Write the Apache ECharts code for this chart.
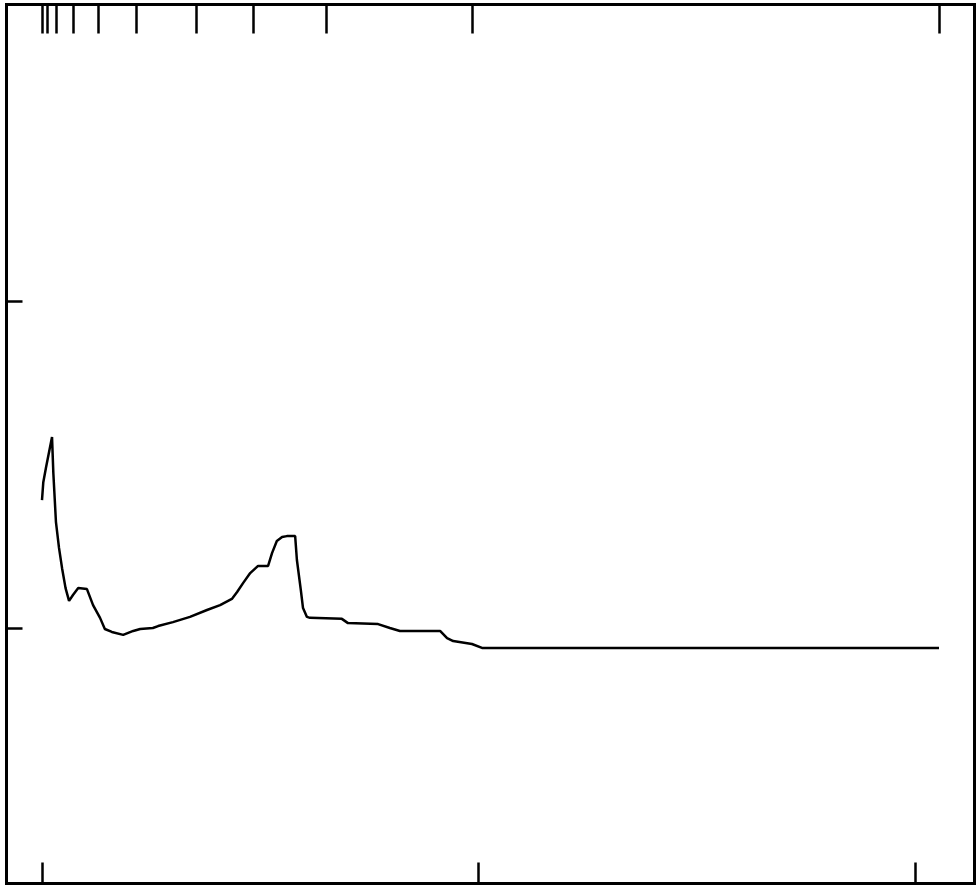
<!DOCTYPE html>
<html>
<head>
<meta charset="utf-8">
<script src="https://cdn.jsdelivr.net/npm/echarts@6/dist/echarts.min.js"></script>
<style>
  html, body { margin: 0; padding: 0; background: #fff; }
  #chart { width: 977px; height: 890px; }
</style>
</head>
<body>
<div id="chart"></div>
<script>
// curve
var xValues = [0, 0.03, 0.09, 0.23, 0.26, 0.32, 0.39, 0.46, 0.54, 0.62, 0.71, 0.83, 1.03, 1.17, 1.33, 1.44,
  1.6, 1.86, 2.09, 2.25, 2.54, 2.66, 3.0, 3.39, 3.78, 4.08, 4.35, 4.47, 4.61, 4.77, 4.95, 5.18, 5.27,
  5.38, 5.5, 5.61, 5.8, 5.84, 5.93, 5.98, 6.07, 6.14, 6.87, 7.01, 7.7, 7.97, 8.2, 9.12, 9.28, 9.42,
  9.85, 10.08, 20.55]
var yValues = [3.91, 4.46, 4.89, 5.84, 4.74, 3.24, 2.45, 1.83, 1.22, 0.83, 1.01, 1.22, 1.19, 0.7, 0.31, -0.03,
  -0.12, -0.21, -0.09, -0.03, 0, 0.06, 0.18, 0.34, 0.55, 0.7, 0.89, 1.1, 1.38, 1.68, 1.9, 1.9, 2.29,
  2.66, 2.78, 2.81, 2.81, 2.08, 1.16, 0.61, 0.34, 0.31, 0.28, 0.15, 0.12, 0, -0.09, -0.09, -0.31, -0.4,
  -0.49, -0.61, -0.61]
// tick positions
var bottomTicks = [0, 10, 20]
var topTicks = [0, 0.115, 0.321, 0.71, 1.283, 2.154, 3.528, 4.834, 6.506, 9.851, 20.55]
var leftTicks = [0, 10]

var points = xValues.map(function (x, i) { return [x, yValues[i]] })

var chart = echarts.init(document.getElementById('chart'))
chart.setOption({
  animation: false,
  grid: {
    left: 6.5,
    top: 4.5,
    right: 2.5,
    bottom: 6.5,
    show: true,
    borderColor: '#000',
    borderWidth: 3,
    outerBoundsMode: 'none'
  },
  xAxis: [
    {
      type: 'value',
      position: 'bottom',
      min: -0.813,
      max: 21.363,
      axisLine: { show: false, onZero: false },
      axisLabel: { show: false },
      splitLine: { show: false },
      axisTick: {
        show: true,
        inside: true,
        length: 21,
        customValues: bottomTicks,
        lineStyle: { color: '#000', width: 2.5 }
      }
    },
    {
      type: 'value',
      position: 'top',
      min: -0.813,
      max: 21.363,
      axisLine: { show: false, onZero: false },
      axisLabel: { show: false },
      splitLine: { show: false },
      axisTick: {
        show: true,
        inside: true,
        length: 29,
        customValues: topTicks,
        lineStyle: { color: '#000', width: 2.5 }
      }
    }
  ],
  yAxis: {
    type: 'value',
    position: 'left',
    min: -7.813,
    max: 19.067,
    axisLine: { show: false, onZero: false },
    axisLabel: { show: false },
    splitLine: { show: false },
    axisTick: {
      show: true,
      inside: true,
      length: 16,
      customValues: leftTicks,
      lineStyle: { color: '#000', width: 2.5 }
    }
  },
  series: [
    {
      type: 'line',
      xAxisIndex: 0,
      data: points,
      showSymbol: false,
      symbol: 'none',
      lineStyle: { color: '#000', width: 2.5 }
    }
  ]
})
</script>
</body>
</html>
